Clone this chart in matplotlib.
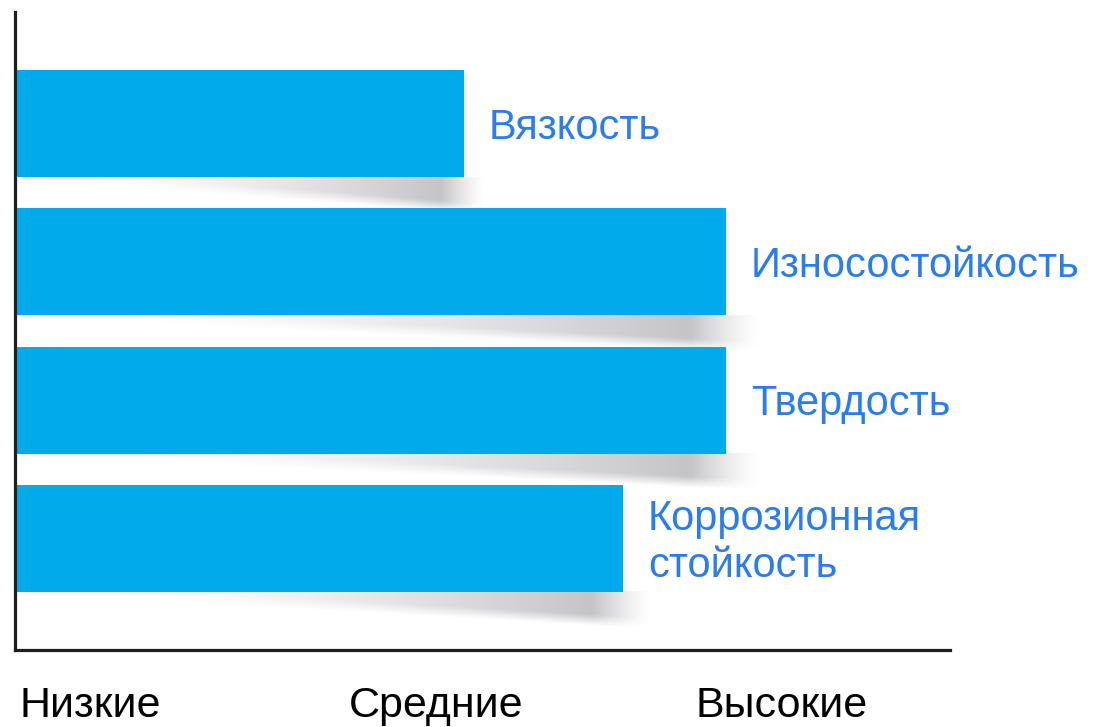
import numpy as np
import matplotlib
matplotlib.use("Agg")
import matplotlib.pyplot as plt

# ---- data ----
properties = ["Вязкость", "Износостойкость", "Твердость", "Коррозионная\nстойкость"]
levels = [48.0, 76.0, 76.0, 65.0]          # relative level (0-100 scale)
tick_positions = [8.0, 45.0, 82.0]
tick_labels = ["Низкие", "Средние", "Высокие"]

BAR_COLOR = "#00AAEB"
LABEL_COLOR = "#2A7DF0"
FONT = ["Liberation Sans", "DejaVu Sans"]

plt.rcParams["font.family"] = FONT

fig = plt.figure(figsize=(10.94, 7.27), dpi=100)
ax = fig.add_axes([15 / 1094, 77 / 727, 935 / 1094, 638 / 727])

ypos = np.arange(len(properties))
bar_h = 0.775

# soft shadows under bars
for y, v in zip(ypos, levels):
    yb = y + bar_h / 2
    depth = 0.30
    xmax = v * 1.06
    xs = np.linspace(0, xmax, 400)
    ys = np.linspace(0, depth, 80)
    X, Y = np.meshgrid(xs, ys)
    frac = X / v
    thick = np.clip(frac, 0, 1) ** 1.2 * 0.22
    fx = np.clip((frac - 0.1) / 0.9, 0, 1) ** 1.6
    tail = np.clip(1 - (frac - 0.95) / 0.10, 0, 1) ** 1.5
    fx = fx * np.where(frac > 0.95, tail, 1.0)
    gy = np.clip((thick - Y) / 0.08 + 0.5, 0, 1)
    alpha = 0.5 * fx * gy
    img = np.zeros(alpha.shape + (4,))
    img[..., 0] = 0.50
    img[..., 1] = 0.50
    img[..., 2] = 0.53
    img[..., 3] = alpha
    ax.imshow(img, extent=(0, xmax, yb + depth, yb), origin="upper",
              aspect="auto", interpolation="bilinear", zorder=1)

ax.barh(ypos, levels, height=bar_h, color=BAR_COLOR, zorder=2)

for y, v, name in zip(ypos, levels, properties):
    ax.text(v + 2.7, y + 0.03, name, color=LABEL_COLOR, fontsize=30,
            va="center", ha="left", linespacing=1.2, zorder=3)

ax.set_xlim(0, 100)
ax.set_ylim(3.808, -0.808)
ax.set_xticks(tick_positions)
ax.set_xticklabels(tick_labels, fontsize=31, color="black")
ax.tick_params(axis="x", length=0, pad=26)
ax.set_yticks([])
for s in ["top", "right"]:
    ax.spines[s].set_visible(False)
for s in ["left", "bottom"]:
    ax.spines[s].set_linewidth(2.3)
    ax.spines[s].set_color("#1e1e1e")

fig.savefig("out.png", dpi=100, facecolor="white")
